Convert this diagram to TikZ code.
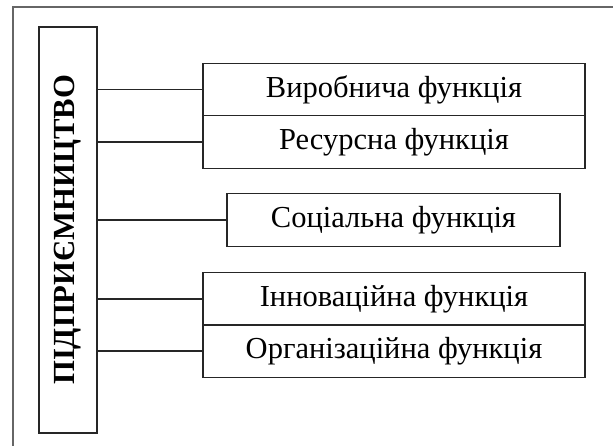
\documentclass[tikz,border=0pt]{standalone}
\usepackage{fontspec}
\setmainfont{Liberation Serif}
\usetikzlibrary{positioning}

\begin{document}
\begin{tikzpicture} [x=1pt,y=-1pt,
  fnbox/.style={draw=black!85, line width=1.2pt, inner sep=0pt, minimum width=382pt, minimum height=52.5pt, font=\fontsize{30.5}{32}\selectfont},
  link/.style={draw=black!85, line width=1.2pt}]
\useasboundingbox (0,0) rectangle (613,446);
\draw[black!60, line width=2pt] (12.5,446)--(12.5,7)--(613,7);
\node[draw=black!85, line width=1.2pt, rotate=90, minimum width=406pt, minimum height=58pt, inner sep=0pt, font=\bfseries\fontsize{30.7}{32}\selectfont] (ent) at (68,230) {ПІДПРИЄМНИЦТВО};
\node[fnbox] (prod) at (394,89.5) {Виробнича функція};
\node[fnbox] (res) at (394,142) {Ресурсна функція};
\node[fnbox, minimum width=333pt] (soc) at (393.5,220) {Соціальна функція};
\node[fnbox] (inn) at (394,299) {Інноваційна функція};
\node[fnbox] (org) at (394,351) {Організаційна функція};
\foreach \f in {prod, res, soc, inn, org} {
 \draw[link] (\f.west) -- (\f.west -| ent.south);
}
\end{tikzpicture}
\end{document}
